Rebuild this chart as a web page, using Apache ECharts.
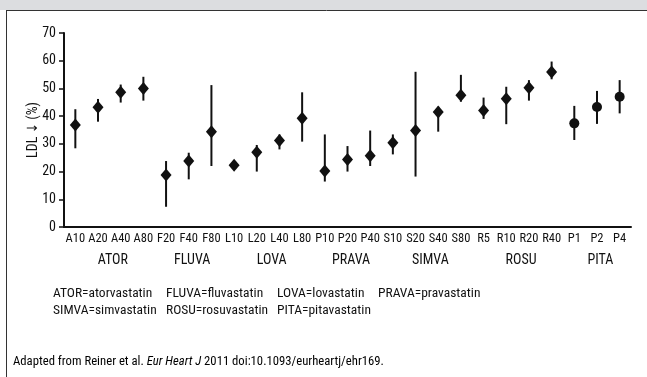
<!DOCTYPE html>
<html>
<head>
<meta charset="utf-8">
<script src="https://cdn.jsdelivr.net/npm/echarts@6/dist/echarts.min.js"></script>
<style>
  html, body { margin: 0; padding: 0; background: #fff; }
  #chart { width: 647px; height: 377px; }
</style>
</head>
<body>
<div id="chart"></div>
<script>
// doses per statin, LDL reduction in %
var categories = ['A10','A20','A40','A80','F20','F40','F80','L10','L20','L40','L80',
                  'P10','P20','P40','S10','S20','S40','S80','R5','R10','R20','R40','P1','P2','P4'];
var groupOf = ['ATOR','ATOR','ATOR','ATOR','FLUVA','FLUVA','FLUVA','LOVA','LOVA','LOVA','LOVA',
               'PRAVA','PRAVA','PRAVA','SIMVA','SIMVA','SIMVA','SIMVA','ROSU','ROSU','ROSU','ROSU','PITA','PITA','PITA'];
var meanValues = [36.8, 43.2, 48.6, 50.0, 18.8, 23.8, 34.4, 22.3, 27.0, 31.2, 39.2,
                  20.2, 24.4, 25.7, 30.4, 34.8, 41.5, 47.5, 42.0, 46.3, 50.2, 55.9, 37.4, 43.3, 47.0];
var lowValues  = [28.4, 38.0, 44.9, 45.6, 7.3, 17.2, 22.0, 21.2, 20.0, 28.0, 30.8,
                  16.4, 20.0, 22.0, 26.2, 18.2, 34.4, 45.2, 39.0, 37.1, 45.6, 53.3, 31.4, 37.2, 41.0];
var highValues = [42.5, 46.2, 51.4, 54.2, 23.8, 26.8, 51.2, 23.4, 29.6, 33.4, 48.6,
                  33.4, 29.2, 34.8, 33.4, 56.0, 43.4, 54.9, 46.7, 50.6, 53.0, 59.7, 43.7, 49.1, 53.0];
// group labels sit under the middle of their doses
var groupNames = ['ATOR','FLUVA','LOVA','PRAVA','SIMVA','ROSU','PITA'];
var groupCenters = [1.5, 5, 8.5, 12, 15.5, 19.5, 23];
var abbreviations = [
  ['ATOR=atorvastatin', 'FLUVA=fluvastatin', 'LOVA=lovastatin', 'PRAVA=pravastatin'],
  ['SIMVA=simvastatin', 'ROSU=rosuvastatin', 'PITA=pitavastatin']
];
var yTicks = [0, 10, 20, 30, 40, 50, 60, 70];

var FONT = "'Roboto Condensed', 'DejaVu Sans Condensed', sans-serif";
var INK = '#111';

var chart = echarts.init(document.getElementById('chart'), null, { renderer: 'canvas' });

var errData = [], dotData = [];
for (var i = 0; i < categories.length; i++) {
  errData.push([i, lowValues[i], highValues[i]]);
  dotData.push([i, meanValues[i]]);
}

// frame + abbreviation lines under the chart
var colX = [53, 166, 277, 378];
var rowY = [295, 312];
var graphics = [
  { type: 'rect', shape: { x: 0, y: 0, width: 647, height: 10 }, style: { fill: '#dcdde0' }, silent: true },
  { type: 'line', shape: { x1: 6, y1: 10.5, x2: 647, y2: 10.5 }, style: { stroke: '#333', lineWidth: 1 }, silent: true },
  { type: 'line', shape: { x1: 6.5, y1: 10, x2: 6.5, y2: 377 }, style: { stroke: '#333', lineWidth: 1 }, silent: true }
];
abbreviations.forEach(function (row, r) {
  row.forEach(function (txt, c) {
    graphics.push({
      type: 'text', left: colX[c], top: rowY[r] - 8,
      style: { text: txt, font: '13.5px ' + FONT, fill: INK }
    });
  });
});
graphics.push({
  type: 'text', left: 13, top: 355,
  style: {
    text: '{n|Adapted from Reiner et al. }{i|Eur Heart J}{n| 2011 doi:10.1093/eurheartj/ehr169.}',
    rich: {
      n: { fontSize: 12.7, fontFamily: FONT, color: INK },
      i: { fontSize: 12.7, fontFamily: FONT, fontStyle: 'italic', color: INK }
    }
  }
});

chart.setOption({
  animation: false,
  textStyle: { fontFamily: FONT, color: INK },
  grid: { left: 64, right: 16, top: 33, bottom: 150, containLabel: false },
  xAxis: [
    {
      type: 'category',
      data: categories,
      axisLine: { onZero: false, lineStyle: { color: INK, width: 2 } },
      axisTick: { inside: true, length: 4, lineStyle: { color: INK, width: 1.5 } },
      axisLabel: { interval: 0, margin: 5, fontSize: 12.5, color: INK, fontFamily: FONT },
      splitLine: { show: false }
    },
    {
      type: 'value',
      position: 'bottom',
      min: -0.5, max: 24.5,
      axisLine: { show: false, onZero: false },
      axisTick: { show: false },
      splitLine: { show: false },
      axisLabel: {
        show: true,
        customValues: groupCenters,
        margin: 26,
        padding: [0, 0, 0, 7],
        fontSize: 14,
        color: INK,
        fontFamily: FONT,
        formatter: function (v) {
          var k = groupCenters.indexOf(v);
          return k >= 0 ? groupNames[k] : '';
        }
      }
    }
  ],
  yAxis: {
    type: 'value',
    min: 0, max: 70, interval: 10,
    name: 'LDL \u2193 (%)',
    nameLocation: 'middle',
    nameGap: 24,
    nameMoveOverlap: false,
    nameTextStyle: { fontSize: 14, color: INK, fontFamily: FONT },
    axisLine: { show: true, onZero: false, lineStyle: { color: INK, width: 2 } },
    axisTick: { show: true, length: 5, lineStyle: { color: INK, width: 1.5 } },
    axisLabel: {
      margin: 8, fontSize: 14, color: INK, fontFamily: FONT,
      customValues: yTicks
    },
    splitLine: { show: false }
  },
  series: [
    {
      type: 'custom',
      xAxisIndex: 0,
      yAxisIndex: 0,
      data: errData,
      renderItem: function (params, api) {
        var top = api.coord([api.value(0), api.value(2)]);
        var bot = api.coord([api.value(0), api.value(1)]);
        return {
          type: 'line',
          shape: { x1: top[0], y1: top[1], x2: bot[0], y2: bot[1] },
          style: { stroke: INK, lineWidth: 2 }
        };
      },
      silent: true,
      z: 2
    },
    {
      type: 'scatter',
      xAxisIndex: 0,
      yAxisIndex: 0,
      data: dotData,
      symbol: function (val, params) {
        return groupOf[params.dataIndex] === 'PITA' ? 'circle' : 'diamond';
      },
      symbolSize: function (val, params) {
        return groupOf[params.dataIndex] === 'PITA' ? 10 : [11, 13];
      },
      itemStyle: { color: INK, opacity: 1 },
      z: 3
    }
  ],
  graphic: graphics
});
</script>
</body>
</html>
